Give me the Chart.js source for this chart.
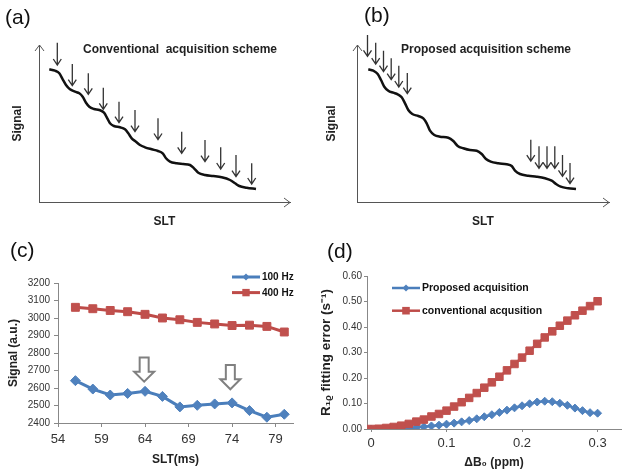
<!DOCTYPE html>
<html>
<head>
<meta charset="utf-8">
<script src="https://cdn.jsdelivr.net/npm/chart.js@4.4.1/dist/chart.umd.min.js"></script>
<style>
  body { margin: 0; background: #fff; }
  #fig { position: relative; width: 628px; height: 475px; overflow: hidden; font-family: 'Liberation Sans', Arial, sans-serif; }
  .panel { position: absolute; width: 314px; height: 235px; }
  .etq { position: absolute; font-size: 21px; line-height: 21px; color: #111; }
  .tit { position: absolute; font-size: 12px; font-weight: bold; line-height: 14px; white-space: pre; color: #222; }
</style>
</head>
<body>
<div id="fig">
  <div class="panel" style="left:0;top:0"><canvas id="chartA" width="314" height="235"></canvas></div>
  <div class="panel" style="left:314px;top:0"><canvas id="chartB" width="314" height="235"></canvas></div>
  <div class="panel" style="left:0;top:240px"><canvas id="chartC" width="314" height="235"></canvas></div>
  <div class="panel" style="left:314px;top:240px"><canvas id="chartD" width="314" height="235"></canvas></div>
  <div class="etq" style="left:5px;top:6px">(a)</div>
  <div class="etq" style="left:364px;top:4px">(b)</div>
  <div class="etq" style="left:10px;top:239px">(c)</div>
  <div class="etq" style="left:327px;top:240px">(d)</div>
  <div class="tit" style="left:83px;top:42px">Conventional  acquisition scheme</div>
  <div class="tit" style="left:401px;top:42px">Proposed acquisition scheme</div>
</div>
<script>
// ---- (a) esquema convencional (unidades arbitrarias del esquema)
const curvaConvX = [10.3, 16, 20.3, 23.7, 27, 31, 36, 40.3, 43.7, 47, 50.3, 55, 60.3, 65, 68.3, 71, 75, 81, 86, 89.3, 92.7, 97, 101, 106, 112.7, 119, 123.7, 127, 131, 137.7, 144.3, 151, 155, 159.3, 166, 174.3, 182.7, 191, 196, 200.3, 207.7, 217];
const curvaConvY = [132.7, 131.3, 128.7, 122.7, 117, 112.7, 110.3, 108.7, 105.3, 99.3, 95.3, 93, 92, 89.3, 83.7, 78.7, 76, 74.7, 72.7, 68.7, 63.7, 60.3, 57, 54.7, 52.7, 51, 48.7, 43.7, 40.3, 38.7, 38, 37, 33.7, 29.3, 27, 26, 24.7, 22, 18.7, 16, 14.3, 13];
const flechasConvX = [18.3, 33.3, 49.3, 64.3, 80, 96, 119, 142.7, 166, 181.7, 197, 212.7];
const flechasConvTop = [159.3, 138, 128.7, 114.3, 100.3, 92, 83.7, 70.3, 62, 54.7, 47, 38.7];
const flechasConvPunta = [137, 116.3, 107.7, 92.7, 79.3, 70.3, 62.5, 48.7, 40.3, 33, 25.3, 18];

// ---- (b) esquema propuesto
const curvaPropX = [11.3, 16.3, 20.7, 24, 27.3, 31.3, 36.3, 40.7, 44.7, 48, 51.3, 55.3, 61.3, 66.3, 69.7, 73, 77.3, 83, 91.3, 96.3, 100.7, 106.3, 113, 119.7, 124.7, 129, 133.7, 141.3, 149.7, 154.7, 158, 163, 171.3, 179.7, 188, 194.7, 199, 203.7, 211.3, 219];
const curvaPropY = [132.7, 131.3, 128, 122, 115.3, 111.3, 109.3, 107.7, 104.7, 98.7, 92, 88, 86, 83.7, 78.7, 71.3, 67, 65.3, 64.3, 61, 56, 53.7, 52, 51.3, 48, 43, 40.3, 38.7, 37.7, 36, 31.3, 28, 26.3, 25.3, 23.7, 21.3, 18, 15.3, 13.7, 13];
const flechasPropX = [10.5, 18.7, 26.5, 34.2, 41.8, 50.3, 173.8, 182, 190, 197.8, 205.5, 213];
const flechasPropTop = [167, 159.3, 151.3, 143.7, 136.2, 129, 62.3, 55.7, 55.7, 55.7, 47, 39];
const flechasPropPunta = [145.7, 137.8, 130.3, 122.3, 115, 108.3, 40.8, 33.7, 33.7, 33.7, 25.7, 18.3];

// ---- (c) señal vs SLT
const sltMs = [56, 58, 60, 62, 64, 66, 68, 70, 72, 74, 76, 78, 80];
const senal100Hz = [2642, 2594, 2560, 2569, 2581, 2552, 2492, 2501, 2509, 2515, 2471, 2433, 2450];
const senal400Hz = [3061, 3053, 3043, 3036, 3021, 3000, 2990, 2975, 2966, 2957, 2959, 2952, 2920];
const sltTicks = [54, 59, 64, 69, 74, 79];
const marcasSlt = [63.9, 73.8];       // flechas huecas
const marcasTop = [2775, 2731];
const marcasPunta = [2636, 2593];

// ---- (d) error de ajuste R1rho vs deltaB0
const deltaB0 = [0, 0.01, 0.02, 0.03, 0.04, 0.05, 0.06, 0.07, 0.08, 0.09, 0.1, 0.11, 0.12, 0.13, 0.14, 0.15, 0.16, 0.17, 0.18, 0.19, 0.2, 0.21, 0.22, 0.23, 0.24, 0.25, 0.26, 0.27, 0.28, 0.29, 0.3];
const errPropuesto = [0, 0, 0, 0.001, 0.002, 0.004, 0.006, 0.009, 0.012, 0.015, 0.019, 0.023, 0.028, 0.033, 0.04, 0.048, 0.056, 0.065, 0.074, 0.083, 0.091, 0.099, 0.106, 0.109, 0.107, 0.101, 0.093, 0.082, 0.072, 0.064, 0.062];
const errConvencional = [0, 0.001, 0.004, 0.008, 0.013, 0.02, 0.029, 0.037, 0.049, 0.059, 0.072, 0.088, 0.105, 0.122, 0.141, 0.162, 0.183, 0.205, 0.23, 0.255, 0.28, 0.307, 0.334, 0.359, 0.383, 0.405, 0.425, 0.446, 0.464, 0.482, 0.501];
const b0Ticks = [0, 0.1, 0.2, 0.3];

Chart.defaults.font.family = "'Liberation Sans', Arial, sans-serif";
Chart.defaults.color = '#333';

function puntos(xs, ys) {
  return xs.map((x, i) => ({ x: x, y: ys[i] }));
}

// Flechas de adquisición y puntas de los ejes del esquema
function flechasEsquema(xs, tops, puntas) {
  return {
    id: 'flechasEsquema',
    afterDatasetsDraw(chart) {
      const { ctx, chartArea: ca, scales: { x, y } } = chart;
      ctx.save();
      ctx.strokeStyle = '#555';
      ctx.lineWidth = 1;
      ctx.beginPath();
      ctx.moveTo(ca.left - 4, ca.top + 6); ctx.lineTo(ca.left + 0.5, ca.top); ctx.lineTo(ca.left + 5, ca.top + 6);
      ctx.moveTo(ca.right - 6, ca.bottom - 4); ctx.lineTo(ca.right, ca.bottom + 0.5); ctx.lineTo(ca.right - 6, ca.bottom + 5);
      ctx.stroke();
      ctx.strokeStyle = '#333';
      ctx.lineWidth = 1.3;
      xs.forEach((v, i) => {
        const px = x.getPixelForValue(v);
        const pt = y.getPixelForValue(tops[i]);
        const pp = y.getPixelForValue(puntas[i]);
        ctx.beginPath();
        ctx.moveTo(px, pt); ctx.lineTo(px, pp);
        ctx.moveTo(px - 4, pp - 6); ctx.lineTo(px, pp); ctx.lineTo(px + 4, pp - 6);
        ctx.stroke();
      });
      ctx.restore();
    }
  };
}

function flechasHuecas(xs, tops, puntas) {
  return {
    id: 'flechasHuecas',
    afterDatasetsDraw(chart) {
      const { ctx, scales: { x, y } } = chart;
      ctx.save();
      ctx.strokeStyle = '#808080';
      ctx.fillStyle = '#fff';
      ctx.lineWidth = 2;
      xs.forEach((v, i) => {
        const px = x.getPixelForValue(v);
        const pt = y.getPixelForValue(tops[i]);
        const pp = y.getPixelForValue(puntas[i]);
        const base = pp - 10;
        ctx.beginPath();
        ctx.moveTo(px - 4.5, pt); ctx.lineTo(px + 4.5, pt); ctx.lineTo(px + 4.5, base);
        ctx.lineTo(px + 10, base); ctx.lineTo(px, pp); ctx.lineTo(px - 10, base);
        ctx.lineTo(px - 4.5, base); ctx.closePath();
        ctx.fill(); ctx.stroke();
      });
      ctx.restore();
    }
  };
}

function marcador(ctx, estilo, x, y, r, color) {
  ctx.fillStyle = color;
  ctx.beginPath();
  if (estilo === 'rectRot') {
    ctx.moveTo(x, y - r); ctx.lineTo(x + r, y); ctx.lineTo(x, y + r); ctx.lineTo(x - r, y);
  } else {
    ctx.rect(x - r, y - r, 2 * r, 2 * r);
  }
  ctx.closePath();
  ctx.fill();
}

// Leyenda estilo Excel: línea con marcador en medio
function leyendaLineas(x0, y0, paso, largo, radios, fuente) {
  return {
    id: 'leyendaLineas',
    afterDraw(chart) {
      const ctx = chart.ctx;
      ctx.save();
      chart.data.datasets.forEach((ds, i) => {
        const y = y0 + i * paso;
        ctx.strokeStyle = ds.borderColor;
        ctx.lineWidth = ds.borderWidth;
        ctx.beginPath(); ctx.moveTo(x0, y); ctx.lineTo(x0 + largo, y); ctx.stroke();
        marcador(ctx, ds.pointStyle, x0 + largo / 2, y, radios[i], ds.pointBackgroundColor);
        ctx.fillStyle = '#111';
        ctx.font = fuente;
        ctx.textAlign = 'left';
        ctx.textBaseline = 'middle';
        ctx.fillText(ds.label, x0 + largo + 2, y + 0.5);
      });
      ctx.restore();
    }
  };
}

function esquema(id, cx, cy, xs, tops, puntas, derecha, maxX) {
  new Chart(document.getElementById(id), {
    type: 'line',
    data: {
      datasets: [{
        data: puntos(cx, cy),
        borderColor: '#111',
        borderWidth: 2.5,
        pointRadius: 0,
        cubicInterpolationMode: 'monotone'
      }]
    },
    options: {
      responsive: false,
      animation: false,
      devicePixelRatio: 1,
      layout: { padding: { left: 0, right: derecha, top: 45, bottom: 0 } },
      plugins: { legend: { display: false }, tooltip: { enabled: false } },
      scales: {
        x: {
          type: 'linear', min: 0, max: maxX,
          ticks: { display: false },
          grid: { display: false },
          border: { color: '#555', width: 1 },
          title: { display: true, text: 'SLT', color: '#222', font: { size: 12, weight: 'bold' }, padding: { top: 0, bottom: 6 } },
          afterFit(s) { s.height = 33; }
        },
        y: {
          min: 0, max: 157,
          ticks: { display: false },
          grid: { display: false },
          border: { color: '#555', width: 1 },
          title: { display: true, text: 'Signal', color: '#222', font: { size: 12, weight: 'bold' }, padding: { top: 10, bottom: 0 } },
          afterFit(s) { s.width = id === 'chartA' ? 39 : 43; }
        }
      }
    },
    plugins: [flechasEsquema(xs, tops, puntas)]
  });
}

esquema('chartA', curvaConvX, curvaConvY, flechasConvX, flechasConvTop, flechasConvPunta, 24, 251);
esquema('chartB', curvaPropX, curvaPropY, flechasPropX, flechasPropTop, flechasPropPunta, 19, 252);

// ---- (c)
new Chart(document.getElementById('chartC'), {
  type: 'line',
  data: {
    datasets: [
      {
        label: '100 Hz',
        data: puntos(sltMs, senal100Hz),
        borderColor: '#4A7EBB', borderWidth: 3,
        pointStyle: 'rectRot', pointRadius: 5,
        pointBackgroundColor: '#4F81BD', pointBorderColor: '#4F81BD', pointBorderWidth: 1
      },
      {
        label: '400 Hz',
        data: puntos(sltMs, senal400Hz),
        borderColor: '#BE4B48', borderWidth: 3,
        pointStyle: 'rect', pointRadius: 5.6,
        pointBackgroundColor: '#C0504D', pointBorderColor: '#C0504D', pointBorderWidth: 1
      }
    ]
  },
  options: {
    responsive: false,
    animation: false,
    devicePixelRatio: 1,
    layout: { padding: { left: 0, right: 21, top: 43, bottom: 0 } },
    plugins: { legend: { display: false }, tooltip: { enabled: false } },
    scales: {
      x: {
        type: 'linear', min: 54, max: 81,
        afterBuildTicks(s) { s.ticks = sltTicks.map(v => ({ value: v })); },
        afterFit(s) { s.height = 52; },
        ticks: { font: { size: 13 }, color: '#333', padding: 5, maxRotation: 0, autoSkip: false, callback: v => String(v) },
        grid: { drawOnChartArea: false, tickLength: 4, color: '#888' },
        border: { color: '#888' },
        title: { display: true, text: 'SLT(ms)', color: '#222', font: { size: 12, weight: 'bold' }, padding: { top: 0, bottom: 8 } }
      },
      y: {
        min: 2400, max: 3200,
        ticks: { stepSize: 100, font: { size: 10 }, color: '#333', padding: 4, callback: v => String(v) },
        afterFit(s) { s.width = 58; },
        grid: { drawOnChartArea: false, tickLength: 4, color: '#888' },
        border: { color: '#888' },
        title: { display: true, text: 'Signal (a.u.)', color: '#222', font: { size: 12, weight: 'bold' }, padding: { top: 6, bottom: 0 } }
      }
    }
  },
  plugins: [flechasHuecas(marcasSlt, marcasTop, marcasPunta), leyendaLineas(232, 37, 15.6, 28, [3.5, 3.7], "bold 10px 'Liberation Sans', Arial, sans-serif")]
});

// ---- (d)
new Chart(document.getElementById('chartD'), {
  type: 'line',
  data: {
    datasets: [
      {
        label: 'Proposed acquisition',
        data: puntos(deltaB0, errPropuesto),
        borderColor: '#4A7EBB', borderWidth: 2.5, order: 1,
        pointStyle: 'rectRot', pointRadius: 4,
        pointBackgroundColor: '#4F81BD', pointBorderColor: '#4F81BD', pointBorderWidth: 1
      },
      {
        label: 'conventional acqusition',
        data: puntos(deltaB0, errConvencional),
        borderColor: '#BE4B48', borderWidth: 2.5, order: 0,
        pointStyle: 'rect', pointRadius: 5.3,
        pointBackgroundColor: '#C0504D', pointBorderColor: '#C0504D', pointBorderWidth: 1
      }
    ]
  },
  options: {
    responsive: false,
    animation: false,
    devicePixelRatio: 1,
    layout: { padding: { left: 0, right: 7, top: 36, bottom: 0 } },
    plugins: { legend: { display: false }, tooltip: { enabled: false } },
    scales: {
      x: {
        type: 'linear', min: -0.0053, max: 0.331,
        afterBuildTicks(s) { s.ticks = b0Ticks.map(v => ({ value: v })); },
        afterFit(s) { s.height = 46; },
        ticks: { font: { size: 13 }, color: '#333', padding: 4, maxRotation: 0, autoSkip: false, callback: v => String(v) },
        grid: { drawOnChartArea: false, tickLength: 3, color: '#888' },
        border: { color: '#888' },
        title: { display: true, text: 'ΔB₀ (ppm)', color: '#222', font: { size: 12, weight: 'bold' }, padding: { top: 0, bottom: 5 } }
      },
      y: {
        min: 0, max: 0.6,
        ticks: { stepSize: 0.1, font: { size: 10 }, color: '#333', padding: 2, callback: v => v.toFixed(2) },
        afterFit(s) { s.width = 53; },
        grid: { drawOnChartArea: false, tickLength: 3, color: '#888' },
        border: { color: '#888' },
        title: { display: true, text: 'R₁ᵨ fitting error (s⁻¹)', color: '#222', font: { size: 13.5, weight: 'bold' }, padding: { top: 4, bottom: 0 } }
      }
    }
  },
  plugins: [leyendaLineas(78, 48, 22.7, 28, [3.5, 3.8], "bold 10.5px 'Liberation Sans', Arial, sans-serif")]
});
</script>
</body>
</html>
